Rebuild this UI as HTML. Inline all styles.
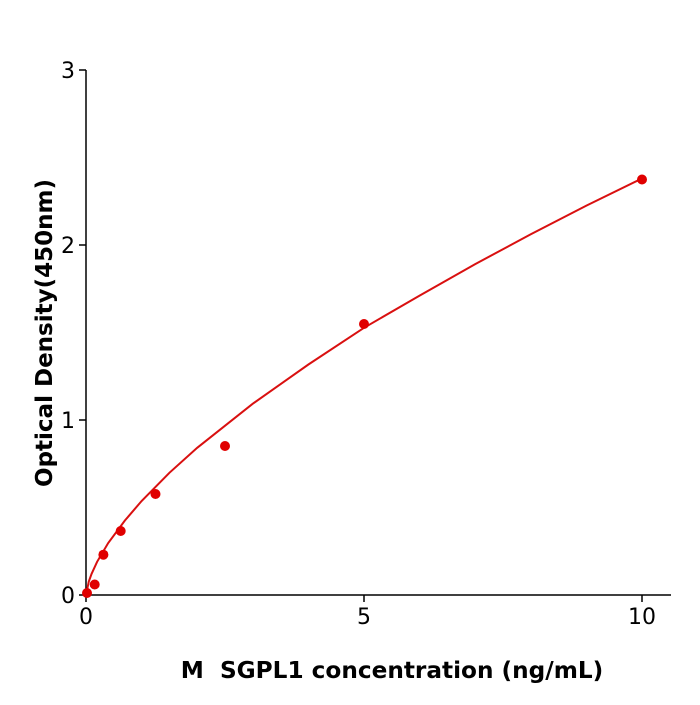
<!DOCTYPE html>
<html><head><style>body{margin:0;background:#fff}</style></head><body>
<svg width="700" height="700" xmlns="http://www.w3.org/2000/svg" font-family="DejaVu Sans, Liberation Sans, sans-serif">
<rect width="700" height="700" fill="#fff"/>
<g stroke="#000" stroke-width="1.5" fill="none">
<line x1="86" y1="70" x2="86" y2="596"/>
<line x1="85" y1="595" x2="671" y2="595"/>
<line x1="79" y1="595" x2="86" y2="595"/>
<line x1="79" y1="420" x2="86" y2="420"/>
<line x1="79" y1="245" x2="86" y2="245"/>
<line x1="79" y1="70" x2="86" y2="70"/>
<line x1="86" y1="595" x2="86" y2="602"/>
<line x1="364" y1="595" x2="364" y2="602"/>
<line x1="642" y1="595" x2="642" y2="602"/>
</g>
<g font-size="22" fill="#000">
<text x="75" y="603" text-anchor="end">0</text>
<text x="75" y="428" text-anchor="end">1</text>
<text x="75" y="253" text-anchor="end">2</text>
<text x="75" y="78" text-anchor="end">3</text>
<text x="86" y="624" text-anchor="middle">0</text>
<text x="364" y="624" text-anchor="middle">5</text>
<text x="642" y="624" text-anchor="middle">10</text>
</g>
<text x="392" y="678" text-anchor="middle" font-size="23.2" font-weight="bold">M&#160; SGPL1 concentration (ng/mL)</text>
<text transform="translate(52,333) rotate(-90)" text-anchor="middle" font-size="23" font-weight="bold">Optical Density(450nm)</text>
<polyline fill="none" stroke="#d91010" stroke-width="2" points="86,595 88.8,581.5 91.6,573.8 97.1,561.8 108.2,543 124.9,520.5 141.6,501 169.4,472.8 197.2,447.8 252.8,403.7 308.4,364.5 364,327.8 419.6,295.6 475.2,264.1 530.8,234.3 586.4,205.6 642,178.5"/>
<g fill="#e00000">
<circle cx="87" cy="593" r="5"/>
<circle cx="94.7" cy="584.5" r="5"/>
<circle cx="103.4" cy="554.7" r="5"/>
<circle cx="120.7" cy="531" r="5"/>
<circle cx="155.5" cy="494" r="5"/>
<circle cx="225" cy="446" r="5"/>
<circle cx="364" cy="324" r="5"/>
<circle cx="642" cy="179.5" r="5"/>
</g>
</svg>
</body></html>
